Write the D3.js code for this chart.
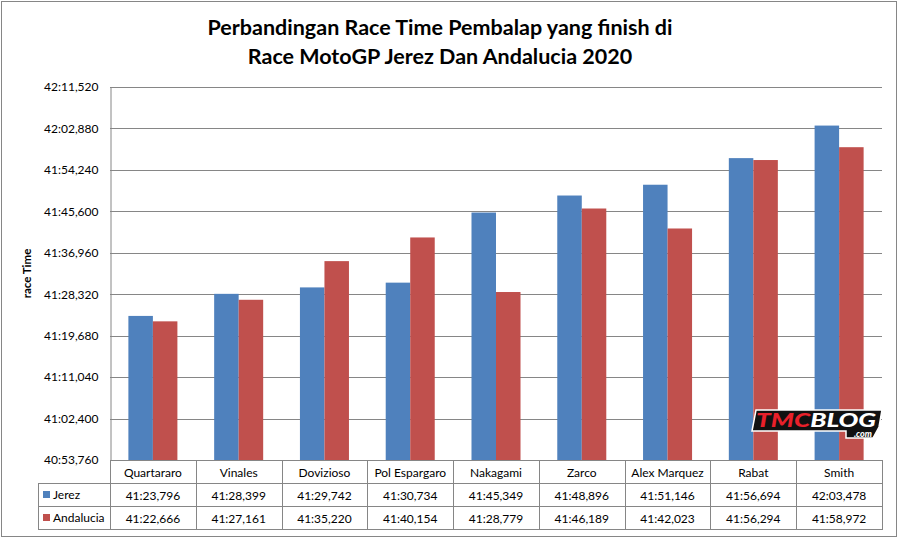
<!DOCTYPE html>
<html>
<head>
<meta charset="utf-8">
<script src="https://cdn.jsdelivr.net/npm/d3@7"></script>
<style>
  body { margin: 0; background: #fff; }
  svg text { font-family: Lato, "Open Sans", sans-serif; }
</style>
</head>
<body>
<div id="chart"></div>
<script>
var svgWidth = 898;
var svgHeight = 538;

var riders = ["Quartararo", "Vinales", "Dovizioso", "Pol Espargaro", "Nakagami", "Zarco", "Alex Marquez", "Rabat", "Smith"];
var seriesNames = ["Jerez", "Andalucia"];
var jerezTimes = ["41:23,796", "41:28,399", "41:29,742", "41:30,734", "41:45,349", "41:48,896", "41:51,146", "41:56,694", "42:03,478"];
var andaluciaTimes = ["41:22,666", "41:27,161", "41:35,220", "41:40,154", "41:28,779", "41:46,189", "41:42,023", "41:56,294", "41:58,972"];
var yTickLabels = ["40:53,760", "41:02,400", "41:11,040", "41:19,680", "41:28,320", "41:36,960", "41:45,600", "41:54,240", "42:02,880", "42:11,520"];
var colors = ["#4F81BD", "#C0504D"];

// "mm:ss,mmm" -> seconds
function toSec(s) {
    var p = s.split(":");
    return +p[0] * 60 + +p[1].replace(",", ".");
}
function fmt(sec) {
    var m = Math.floor(sec / 60);
    var r = sec - m * 60;
    var ss = Math.floor(r + 1e-6);
    var ms = Math.round((r - ss) * 1000);
    return m + ":" + String(ss).padStart(2, "0") + "," + String(ms).padStart(3, "0");
}

var data = riders.map(function(r, i) {
    return { rider: r, values: [toSec(jerezTimes[i]), toSec(andaluciaTimes[i])], labels: [jerezTimes[i], andaluciaTimes[i]] };
});
var tickVals = yTickLabels.map(toSec);

var plot = { left: 110, right: 882, top: 87, bottom: 460 };
var rowH = 23;

var svg = d3.select("#chart")
    .append("svg")
    .attr("width", svgWidth)
    .attr("height", svgHeight);

svg.append("rect")
    .attr("x", 1.5).attr("y", 1.5)
    .attr("width", svgWidth - 3).attr("height", svgHeight - 3)
    .attr("fill", "#fff")
    .attr("stroke", "#868686");

// title
var title = svg.append("text")
    .attr("text-anchor", "middle")
    .attr("font-weight", 700)
    .attr("font-size", 21.5);
title.append("tspan").attr("x", 440).attr("y", 35).text("Perbandingan Race Time Pembalap yang finish di");
title.append("tspan").attr("x", 440).attr("y", 64).text("Race MotoGP Jerez Dan Andalucia 2020");

var xScale = d3.scaleBand().domain(riders).range([plot.left, plot.right]).padding(0);
var xInner = d3.scaleBand().domain(seriesNames).range([0, xScale.bandwidth()]).paddingInner(0).paddingOuter(0.75);
var yScale = d3.scaleLinear().domain([tickVals[0], tickVals[tickVals.length - 1]]).range([plot.bottom, plot.top]);

// gridlines
svg.append("g")
    .selectAll("line")
    .data(tickVals)
    .enter()
    .append("line")
    .attr("x1", plot.left).attr("x2", plot.right)
    .attr("y1", d => Math.round(yScale(d)) + 0.5)
    .attr("y2", d => Math.round(yScale(d)) + 0.5)
    .attr("stroke", "#868686");

var leftAxis = d3.axisLeft(yScale)
    .tickValues(tickVals)
    .tickFormat(fmt)
    .tickSize(0)
    .tickPadding(12);

var yAxisG = svg.append("g")
    .attr("transform", `translate(${plot.left + 0.5},0)`)
    .call(leftAxis);
yAxisG.select(".domain").attr("stroke", "#868686");
yAxisG.selectAll("text")
    .attr("font-size", 12)
    .style("font-family", "Lato, sans-serif");

svg.append("text")
    .attr("transform", `translate(31,${(plot.top + plot.bottom) / 2}) rotate(-90)`)
    .attr("text-anchor", "middle")
    .attr("font-weight", 700)
    .attr("font-size", 11.5)
    .text("race Time");

// bars
var groups = svg.append("g")
    .selectAll("g")
    .data(data)
    .enter()
    .append("g")
    .attr("transform", d => `translate(${xScale(d.rider)},0)`);

groups.selectAll("rect")
    .data(d => d.values.map((v, i) => ({ series: seriesNames[i], value: v, i: i })))
    .enter()
    .append("rect")
    .attr("x", d => xInner(d.series))
    .attr("width", xInner.bandwidth())
    .attr("y", d => yScale(d.value))
    .attr("height", d => plot.bottom - yScale(d.value))
    .attr("fill", d => colors[d.i]);

// data table
var table = svg.append("g").attr("stroke", "#868686").attr("fill", "none");
var tableLeft = 38;
var rowTops = [plot.bottom, plot.bottom + rowH, plot.bottom + rowH * 2, plot.bottom + rowH * 3];

[rowTops[1], rowTops[2], rowTops[3]].forEach(function(y) {
    table.append("line")
        .attr("x1", tableLeft).attr("x2", plot.right)
        .attr("y1", y + 0.5).attr("y2", y + 0.5);
});
table.append("line")
    .attr("x1", tableLeft + 0.5).attr("x2", tableLeft + 0.5)
    .attr("y1", rowTops[1]).attr("y2", rowTops[3] + 1);

var cellEdges = riders.map(r => xScale(r)).concat([plot.right]);
cellEdges.forEach(function(x) {
    table.append("line")
        .attr("x1", Math.round(x) + 0.5).attr("x2", Math.round(x) + 0.5)
        .attr("y1", plot.bottom).attr("y2", rowTops[3] + 1);
});

svg.append("g")
    .selectAll("text")
    .data(riders)
    .enter()
    .append("text")
    .attr("x", d => xScale(d) + xScale.bandwidth() / 2)
    .attr("y", rowTops[0] + 17)
    .attr("text-anchor", "middle")
    .attr("font-size", 12)
    .text(d => d);

seriesNames.forEach(function(s, si) {
    var y = rowTops[si + 1];
    svg.append("rect")
        .attr("x", 43).attr("y", y + 8)
        .attr("width", 7).attr("height", 7)
        .attr("fill", colors[si]);
    svg.append("text")
        .attr("x", 53).attr("y", y + 16)
        .attr("font-size", 12)
        .text(s);
    svg.append("g")
        .selectAll("text")
        .data(data)
        .enter()
        .append("text")
        .attr("x", d => xScale(d.rider) + xScale.bandwidth() / 2)
        .attr("y", y + 17)
        .attr("text-anchor", "middle")
        .attr("font-size", 12)
        .text(d => d.labels[si]);
});

// watermark
var wm = svg.append("g").attr("transform", "translate(750,410)");
wm.append("path")
    .attr("d", "M6,0 L132,0 L129,17 L123,28 L96,28 L96,21 L2,21 Z")
    .attr("fill", "#111")
    .attr("stroke", "#fff")
    .attr("stroke-width", 1.5);
var wmText = wm.append("text")
    .attr("x", 6).attr("y", 17)
    .attr("font-size", 18).attr("font-weight", 900).attr("font-style", "italic")
    .attr("textLength", 120)
    .attr("lengthAdjust", "spacingAndGlyphs")
    .style("fill", "#e8202a")
    .text("TMC");
wmText.append("tspan").style("fill", "#fff").text("BLOG");
wm.append("text")
    .attr("x", 122).attr("y", 27)
    .attr("text-anchor", "end")
    .attr("font-size", 9).attr("font-weight", 900).attr("font-style", "italic")
    .style("fill", "#fff")
    .text(".com");
</script>
</body>
</html>
